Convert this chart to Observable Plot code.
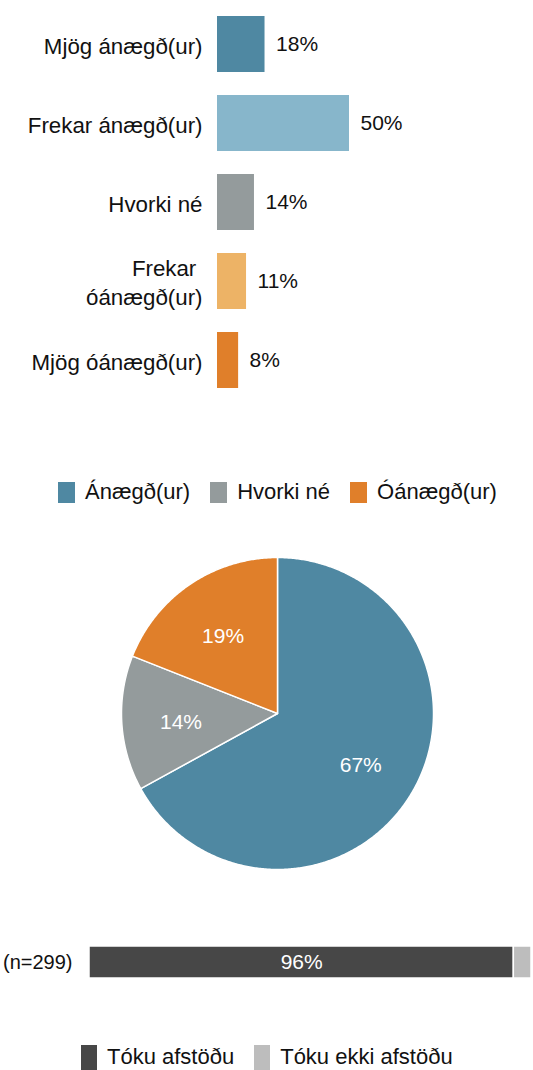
<!DOCTYPE html>
<html>
<head>
<meta charset="utf-8">
<script src="https://cdn.jsdelivr.net/npm/d3@7"></script>
<script src="https://cdn.jsdelivr.net/npm/@observablehq/plot@0.6"></script>
<style>
  html, body { margin: 0; padding: 0; background: #fff; }
  body { font-family: "Liberation Sans", Arial, sans-serif; color: #111; }
  #page { position: relative; width: 533px; height: 1070px; overflow: hidden; }
  .part { position: absolute; left: 0; }
  .legend { position: absolute; display: flex; align-items: center; font-size: 22px; white-space: nowrap; }
  .legend .sw { display: inline-block; margin-right: 10px; }
  .legend .lab { margin-right: 20px; }
</style>
</head>
<body>
<div id="page"></div>
<script>
// ---------- data ----------
const barCategories = ["Mjög ánægð(ur)", "Frekar ánægð(ur)", "Hvorki né", "Frekar óánægð(ur)", "Mjög óánægð(ur)"];
const barValues = [18, 50, 14, 11, 8];
const barColors = ["#4f88a2", "#87b6cb", "#949b9c", "#edb366", "#e07f2a"];

const pieCategories = ["Ánægð(ur)", "Hvorki né", "Óánægð(ur)"];
const pieValues = [67, 14, 19];
const pieColors = ["#4f88a2", "#949b9c", "#e07f2a"];

const stackLabel = "(n=299)";
const stackCategories = ["Tóku afstöðu", "Tóku ekki afstöðu"];
const stackValues = [96, 4];
const stackColors = ["#474747", "#bdbdbd"];

// ---------- helpers ----------
const FONT = '"Liberation Sans", Arial, sans-serif';
const INK = "#111";
const page = document.getElementById("page");
function place(el, top) {
  el.classList.add("part");
  el.style.top = top + "px";
  page.appendChild(el);
}
function legend(cats, colors, left, top, sw, sh) {
  const div = document.createElement("div");
  div.className = "legend";
  div.style.left = left + "px";
  div.style.top = top + "px";
  cats.forEach((c, i) => {
    const s = document.createElement("span");
    s.className = "sw";
    s.style.width = sw + "px";
    s.style.height = sh + "px";
    s.style.background = colors[i];
    const t = document.createElement("span");
    t.className = "lab";
    t.textContent = c;
    div.appendChild(s);
    div.appendChild(t);
  });
  page.appendChild(div);
}

// ---------- horizontal bar chart ----------
const barData = barCategories.map((c, i) => ({cat: c, v: barValues[i]}));
const wrap = d => d.length > 16 ? d.replace(" ", "\u00a0\n") : d;

const bars = Plot.plot({
  width: 533,
  height: 420,
  marginLeft: 217,
  marginRight: 52,
  marginTop: 4.5,
  marginBottom: 20.5,
  style: {fontFamily: FONT, fontSize: "21px", color: INK, background: "transparent"},
  x: {domain: [0, 100], axis: null},
  y: {domain: barCategories, paddingInner: 0.29, paddingOuter: 0.145, axis: null},
  color: {domain: barCategories, range: barColors},
  marks: [
    Plot.barX(barData, {y: "cat", x: "v", fill: "cat"}),
    Plot.text(barData, {y: "cat", x: "v", text: d => d.v + "%", dx: 11, textAnchor: "start", fontSize: 21, fill: INK}),
    Plot.axisY({tickSize: 0, tickPadding: 15, tickFormat: wrap, fontSize: 22.3, lineHeight: 1.3, label: null, fill: INK})
  ]
});
place(bars, 0);

// ---------- pie legend ----------
legend(pieCategories, pieColors, 58, 479, 17, 21);

// ---------- pie chart ----------
const R = 156;
const arcs = d3.pie().sort(null).value(d => d.v)(pieCategories.map((c, i) => ({cat: c, v: pieValues[i]})));
const slicePts = [];
arcs.forEach(a => {
  slicePts.push({cat: a.data.cat, x: 0, y: 0});
  const n = Math.max(2, Math.ceil((a.endAngle - a.startAngle) / (Math.PI / 360)));
  for (let k = 0; k <= n; k++) {
    const t = a.startAngle + (a.endAngle - a.startAngle) * k / n;
    slicePts.push({cat: a.data.cat, x: R * Math.sin(t), y: R * Math.cos(t)});
  }
  slicePts.push({cat: a.data.cat, x: 0, y: 0});
});
const pieLabels = arcs.map(a => {
  const m = (a.startAngle + a.endAngle) / 2;
  return {cat: a.data.cat, v: a.data.v, x: 0.62 * R * Math.sin(m), y: 0.62 * R * Math.cos(m)};
});

const pie = Plot.plot({
  width: 533,
  height: 350,
  margin: 0,
  style: {fontFamily: FONT, fontSize: "21px", background: "transparent"},
  x: {domain: [-277, 256], axis: null},
  y: {domain: [-177, 173], axis: null},
  color: {domain: pieCategories, range: pieColors},
  marks: [
    Plot.line(slicePts, {x: "x", y: "y", z: "cat", fill: "cat", stroke: "white", strokeWidth: 1.5, curve: "linear"}),
    Plot.text(pieLabels, {x: "x", y: "y", dy: 3, text: d => d.v + "%", fill: "white", fontSize: 21})
  ]
});
place(pie, 540);

// ---------- stacked bar ----------
const stackData = stackCategories.map((c, i) => ({k: c, v: stackValues[i], row: stackLabel}));
const stacked = Plot.plot({
  width: 533,
  height: 60,
  marginLeft: 89,
  marginRight: 2,
  marginTop: 16,
  marginBottom: 12,
  style: {fontFamily: FONT, fontSize: "21px", color: INK, background: "transparent"},
  x: {domain: [0, 100], axis: null},
  y: {domain: [stackLabel], padding: 0, axis: null},
  color: {domain: stackCategories, range: stackColors},
  marks: [
    Plot.barX(stackData, Plot.stackX({y: "row", x: "v", fill: "k", stroke: "white", strokeWidth: 1.5})),
    Plot.text(stackData.filter(d => d.v >= 10), Plot.stackX({y: "row", x: "v", text: d => d.v + "%", fill: "white", fontSize: 21})),
    Plot.axisY({tickSize: 0, tickPadding: 17, fontSize: 20, label: null, fill: INK})
  ]
});
place(stacked, 930);

// ---------- bottom legend ----------
legend(stackCategories, stackColors, 81, 1044, 16, 25);
</script>
</body>
</html>
